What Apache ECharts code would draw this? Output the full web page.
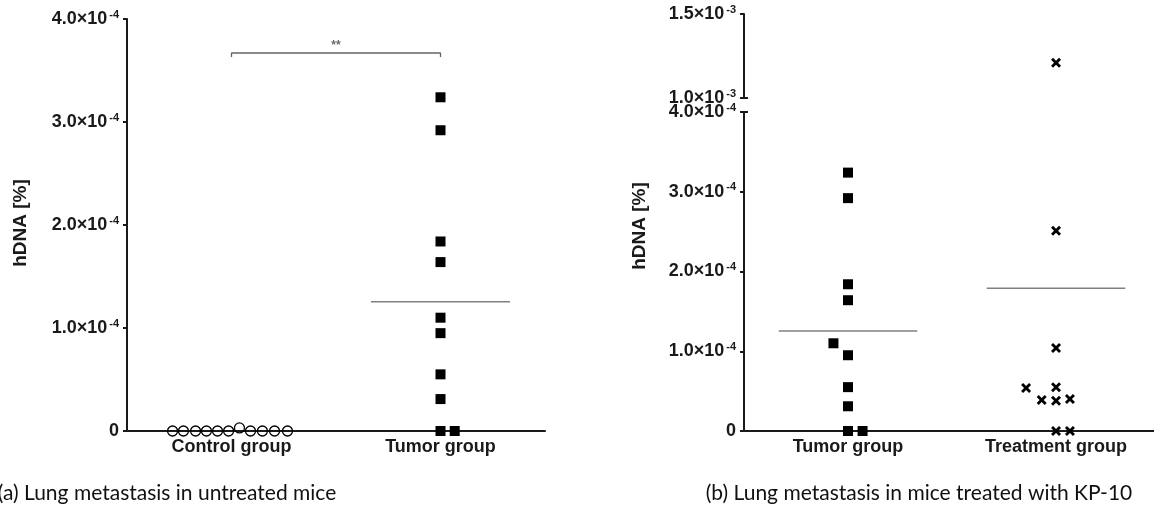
<!DOCTYPE html>
<html>
<head>
<meta charset="utf-8">
<script src="https://cdn.jsdelivr.net/npm/echarts@6/dist/echarts.min.js"></script>
<style>
  html, body { margin: 0; padding: 0; background: #fff; }
  #chart { width: 1154px; height: 511px; }
</style>
</head>
<body>
<div id="chart"></div>
<script>
// Column names
const groupNames = ['Control group', 'Tumor group', 'Treatment group'];

// hDNA [%] per mouse
const controlValues = [0, 0, 0, 0, 0, 0, 0.03e-4, 0, 0, 0, 0];
const tumorValues = [3.24e-4, 2.92e-4, 1.84e-4, 1.64e-4, 1.10e-4, 0.95e-4, 0.55e-4, 0.31e-4, 0, 0];
const treatmentValues = [1.21e-3, 2.51e-4, 1.04e-4, 0.55e-4, 0.54e-4, 0.39e-4, 0.38e-4, 0.40e-4, 0, 0];

// horizontal spread of overlapping points inside a column (column units)
const controlSpread = [-0.282, -0.23, -0.172, -0.12, -0.067, -0.014, 0.038, 0.091, 0.148, 0.206, 0.268];
const tumorSpreadA = [0, 0, 0, 0, 0, 0, 0, 0, 0, 0.068];
const tumorSpreadB = [0, 0, 0, 0, -0.07, 0, 0, 0, 0, 0.07];
const treatmentSpread = [0, 0, 0, 0, -0.144, -0.069, 0, 0.067, 0, 0.067];

// y-axis tick values
const ticksA = [0, 1e-4, 2e-4, 3e-4, 4e-4];
const ticksBLow = [0, 1e-4, 2e-4, 3e-4, 4e-4];
const ticksBHigh = [1.0e-3, 1.5e-3];

const sigMark = '**';

const AXIS_FONT = '"Liberation Sans", Arial, sans-serif';
const INK = '#1a1a1a';

function mean(arr) { return arr.reduce((s, v) => s + v, 0) / arr.length; }

function points(values, spread, centre, keep) {
  const out = [];
  values.forEach((v, i) => { if (!keep || keep(v)) out.push([centre + spread[i], v]); });
  return out;
}

function sciLabel(v) {
  if (Math.abs(v) < 1e-12) return '{m|0}';
  const e = Math.floor(Math.log10(v) + 1e-9);
  const m = v / Math.pow(10, e);
  return '{m|' + m.toFixed(1) + '×10}{e|' + e + '}';
}

const labelRich = {
  m: { fontFamily: AXIS_FONT, fontWeight: 'bold', fontSize: 18, color: INK, lineHeight: 20 },
  e: { fontFamily: AXIS_FONT, fontWeight: 'bold', fontSize: 11, color: INK, lineHeight: 9, verticalAlign: 'top', padding: [0, 0, 0, 2] }
};

function yAxisOf(gridIndex, min, max, interval, ticks) {
  return {
    type: 'value', gridIndex, min, max, interval,
    axisLine: { show: true, lineStyle: { color: INK, width: 2 } },
    axisTick: { show: true, length: 4, lineStyle: { color: INK, width: 2 }, customValues: ticks },
    axisLabel: { margin: 8, formatter: sciLabel, rich: labelRich, customValues: ticks },
    splitLine: { show: false }
  };
}

// short inward stub at the ends of the broken axis
function breakStub(gridIndex, min, max, at) {
  return {
    type: 'value', gridIndex, min, max, position: 'left',
    axisLine: { show: false },
    axisTick: { show: true, inside: true, length: 4, lineStyle: { color: INK, width: 2 }, customValues: [at] },
    axisLabel: { show: false },
    splitLine: { show: false }
  };
}

function xAxisOf(gridIndex, max, names, show) {
  return {
    type: 'value', gridIndex, min: 0, max, show,
    axisLine: { show: true, onZero: false, lineStyle: { color: INK, width: 2 } },
    axisTick: { show: false },
    axisLabel: {
      margin: 7, color: INK, fontFamily: AXIS_FONT, fontWeight: 'bold', fontSize: 18,
      customValues: [0.5, 1.5],
      formatter: v => (Math.abs(v - 0.5) < 1e-6 ? names[0] : Math.abs(v - 1.5) < 1e-6 ? names[1] : '')
    },
    splitLine: { show: false }
  };
}

const squareStyle = { symbol: 'rect', symbolSize: 10, itemStyle: { color: '#000', opacity: 1 } };
const crossPath = 'path://M2,0 L5,3 L8,0 L10,2 L7,5 L10,8 L8,10 L5,7 L2,10 L0,8 L3,5 L0,2 Z';
const crossStyle = { symbol: crossPath, symbolSize: 10, itemStyle: { color: '#000', opacity: 1 } };

function meanLine(x, y, centre, value) {
  return {
    type: 'line', xAxisIndex: x, yAxisIndex: y, symbol: 'none', silent: true, z: 1,
    lineStyle: { color: '#808080', width: 1.5 },
    data: [[centre - 0.333, value], [centre + 0.333, value]]
  };
}

const bracketLevel = 3.67e-4;
const bracketDrop = 0.04e-4;

const chart = echarts.init(document.getElementById('chart'), null, { renderer: 'canvas' });

chart.setOption({
  animation: false,
  backgroundColor: '#fff',
  grid: [
    { left: 127, top: 19, width: 418, height: 412, outerBoundsMode: 'none' },
    { left: 744, top: 112, width: 410, height: 319, outerBoundsMode: 'none' },
    { left: 744, top: 14, width: 410, height: 84, outerBoundsMode: 'none' }
  ],
  xAxis: [
    xAxisOf(0, 2, [groupNames[0], groupNames[1]], true),
    xAxisOf(1, 1.971, [groupNames[1], groupNames[2]], true),
    xAxisOf(2, 1.971, ['', ''], false)
  ],
  yAxis: [
    yAxisOf(0, 0, 4e-4, 1e-4, ticksA),
    yAxisOf(1, 0, 4e-4, 1e-4, ticksBLow),
    yAxisOf(2, 1.0e-3, 1.5e-3, 5e-4, ticksBHigh),
    breakStub(1, 0, 4e-4, 4e-4),
    breakStub(2, 1.0e-3, 1.5e-3, 1.0e-3)
  ],
  series: [
    // (a) untreated
    {
      type: 'scatter', xAxisIndex: 0, yAxisIndex: 0, z: 3,
      symbol: 'circle', symbolSize: 10,
      itemStyle: { color: 'rgba(255,255,255,0)', borderColor: '#000', borderWidth: 1.3, opacity: 1 },
      data: points(controlValues, controlSpread, 0.5)
    },
    Object.assign({ type: 'scatter', xAxisIndex: 0, yAxisIndex: 0, z: 3,
      data: points(tumorValues, tumorSpreadA, 1.5) }, squareStyle),
    meanLine(0, 0, 1.5, mean(tumorValues)),
    {
      type: 'line', xAxisIndex: 0, yAxisIndex: 0, symbol: 'none', silent: true,
      lineStyle: { color: '#666', width: 1.3 },
      data: [[0.5, bracketLevel - bracketDrop], [0.5, bracketLevel], [1.5, bracketLevel], [1.5, bracketLevel - bracketDrop]]
    },
    {
      type: 'scatter', xAxisIndex: 0, yAxisIndex: 0, symbolSize: 0, silent: true,
      label: { show: true, position: 'top', distance: 1, formatter: sigMark,
        color: '#444', fontFamily: AXIS_FONT, fontWeight: 'bold', fontSize: 12 },
      data: [[1.0, bracketLevel]]
    },
    // (b) treated with KP-10
    Object.assign({ type: 'scatter', xAxisIndex: 1, yAxisIndex: 1, z: 3,
      data: points(tumorValues, tumorSpreadB, 0.5) }, squareStyle),
    Object.assign({ type: 'scatter', xAxisIndex: 1, yAxisIndex: 1, z: 3,
      data: points(treatmentValues, treatmentSpread, 1.5, v => v <= 4e-4) }, crossStyle),
    Object.assign({ type: 'scatter', xAxisIndex: 2, yAxisIndex: 2, z: 3,
      data: points(treatmentValues, treatmentSpread, 1.5, v => v > 4e-4) }, crossStyle),
    meanLine(1, 1, 0.5, mean(tumorValues)),
    meanLine(1, 1, 1.5, mean(treatmentValues))
  ],
  graphic: [
    { type: 'text', x: 21, y: 223, rotation: Math.PI / 2,
      style: { text: 'hDNA [%]', font: 'bold 19px "Liberation Sans", Arial', align: 'center', verticalAlign: 'middle', fill: INK } },
    { type: 'text', x: 640, y: 226, rotation: Math.PI / 2,
      style: { text: 'hDNA [%]', font: 'bold 19px "Liberation Sans", Arial', align: 'center', verticalAlign: 'middle', fill: INK } },
    { type: 'text', x: 167, y: 493,
      style: { text: '(a) Lung metastasis in untreated mice', font: '21px Lato', align: 'center', verticalAlign: 'middle', fill: '#111' } },
    { type: 'text', x: 919, y: 493,
      style: { text: '(b) Lung metastasis in mice treated with KP-10', font: '21px Lato', align: 'center', verticalAlign: 'middle', fill: '#111' } }
  ]
});
</script>
</body>
</html>
